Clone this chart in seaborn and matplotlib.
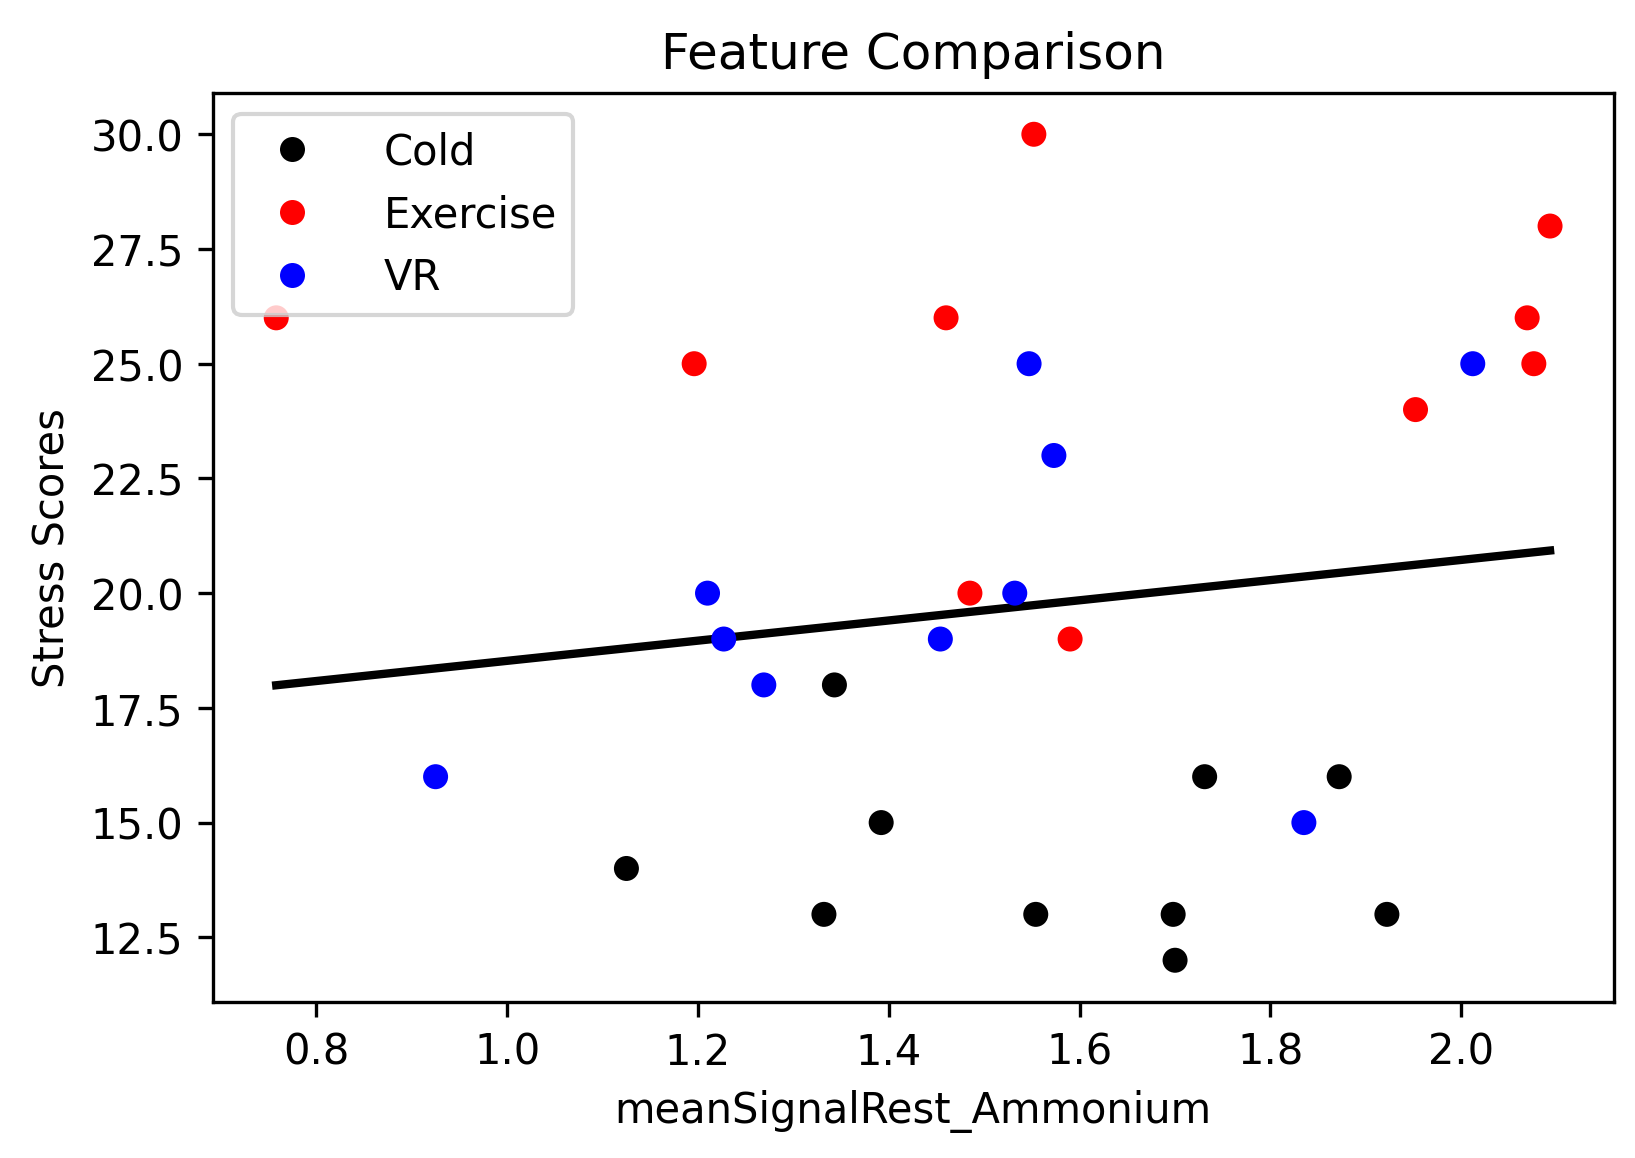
import numpy as np
import pandas as pd
import matplotlib
matplotlib.use('Agg')
import matplotlib.pyplot as plt
import seaborn as sns

cold_x = [1.125, 1.332, 1.343, 1.392, 1.554, 1.698, 1.700, 1.731, 1.872, 1.922]
cold_y = [14, 13, 18, 15, 13, 13, 12, 16, 16, 13]
exercise_x = [0.758, 1.196, 1.460, 1.552, 1.485, 1.590, 1.952, 2.069, 2.076, 2.093]
exercise_y = [26, 25, 26, 30, 20, 19, 24, 26, 25, 28]
vr_x = [0.925, 1.210, 1.227, 1.269, 1.454, 1.532, 1.547, 1.573, 1.835, 2.012]
vr_y = [16, 20, 19, 18, 19, 20, 25, 23, 15, 25]

df = pd.DataFrame({
    'x': cold_x + exercise_x + vr_x,
    'y': cold_y + exercise_y + vr_y,
    'group': ['Cold'] * len(cold_x) + ['Exercise'] * len(exercise_x) + ['VR'] * len(vr_x),
})

fig, ax = plt.subplots(figsize=(5.45, 3.863), dpi=300)
fig.subplots_adjust(left=0.130, right=0.987, top=0.919, bottom=0.135)

sns.scatterplot(data=df, x='x', y='y', hue='group',
                palette={'Cold': 'black', 'Exercise': 'red', 'VR': 'blue'},
                s=36, linewidth=0, ax=ax, zorder=3)

slope, intercept = np.polyfit(df['x'], df['y'], 1)
xs = np.array([df['x'].min(), df['x'].max()])
ax.plot(xs, slope * xs + intercept, color='black', linewidth=2)

ax.set_title('Feature Comparison')
ax.set_xlabel('meanSignalRest_Ammonium')
ax.set_ylabel('Stress Scores')
ax.set_xticks([0.8, 1.0, 1.2, 1.4, 1.6, 1.8, 2.0])
ax.set_yticks([12.5, 15.0, 17.5, 20.0, 22.5, 25.0, 27.5, 30.0])
ax.legend(loc='upper left', handletextpad=1.2)

plt.savefig('out.png', dpi=300)
